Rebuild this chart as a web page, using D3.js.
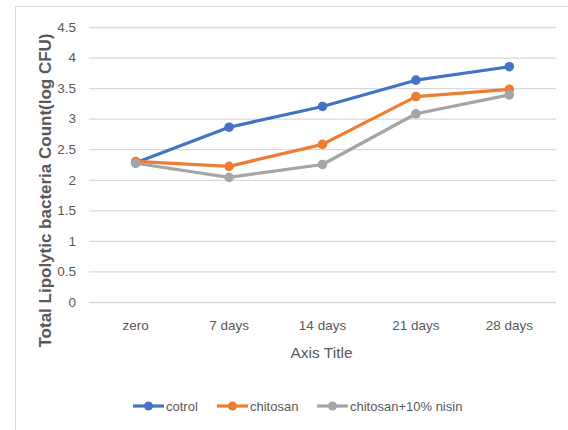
<!DOCTYPE html>
<html>
<head>
<meta charset="utf-8">
<script src="https://cdn.jsdelivr.net/npm/d3@7"></script>
<style>
  html, body { margin: 0; padding: 0; background: #fff; }
  svg { display: block; }
</style>
</head>
<body>
<svg id="chart" width="568" height="430"></svg>
<script>
// Storage time points
const categories = ["zero", "7 days", "14 days", "21 days", "28 days"];
// Total lipolytic bacteria count (log CFU) per treatment
const control = [2.28, 2.86, 3.20, 3.63, 3.85];
const chitosan = [2.30, 2.22, 2.58, 3.36, 3.48];
const chitosanNisin = [2.27, 2.04, 2.25, 3.08, 3.39];
const yTicks = [0, 0.5, 1, 1.5, 2, 2.5, 3, 3.5, 4, 4.5];

const series = [
  { name: "cotrol", values: control, color: "#4472C4" },
  { name: "chitosan", values: chitosan, color: "#ED7D31" },
  { name: "chitosan+10% nisin", values: chitosanNisin, color: "#A5A5A5" }
];

const font = "'Liberation Sans Narrow', 'Liberation Sans', sans-serif";
const svg = d3.select("#chart");

// chart frame
svg.append("rect")
  .attr("x", 15.5).attr("y", 6.5)
  .attr("width", 600).attr("height", 500)
  .attr("fill", "#fff").attr("stroke", "#D9D9D9").attr("stroke-width", 1);

const plot = { left: 89, right: 556, top: 27, bottom: 302 };

const x = d3.scaleBand().domain(categories).range([plot.left, plot.right]);
const y = d3.scaleLinear().domain([0, 4.5]).range([plot.bottom, plot.top]);

// horizontal gridlines
const yAxis = d3.axisLeft(y).tickValues(yTicks)
  .tickSize(-(plot.right - plot.left)).tickPadding(13)
  .tickFormat(d => String(d));
const gy = svg.append("g").attr("transform", `translate(${plot.left},0)`).call(yAxis);
gy.select(".domain").remove();
gy.selectAll(".tick line").attr("stroke", "#D9D9D9").attr("stroke-width", 1.3);
gy.selectAll(".tick text")
  .attr("fill", "#595959").style("font-family", font).style("font-size", "13.5px");

// category labels
const xAxis = d3.axisBottom(x).tickSize(0).tickPadding(18);
const gx = svg.append("g").attr("transform", `translate(0,${plot.bottom})`).call(xAxis);
gx.select(".domain").remove();
gx.selectAll(".tick text")
  .attr("fill", "#595959").style("font-family", font).style("font-size", "13.5px");

// axis titles
svg.append("text")
  .attr("x", (plot.left + plot.right) / 2 - 1).attr("y", 358)
  .attr("text-anchor", "middle")
  .attr("fill", "#595959").style("font-family", font).style("font-size", "15.5px")
  .text("Axis Title");

svg.append("text")
  .attr("transform", `translate(51,${190.5}) rotate(-90)`)
  .attr("text-anchor", "middle")
  .attr("fill", "#595959").style("font-family", "'Liberation Sans', sans-serif")
  .style("font-size", "16px").style("font-weight", "bold")
  .attr("textLength", 314).attr("lengthAdjust", "spacingAndGlyphs")
  .text("Total Lipolytic bacteria Count(log CFU)");

// series lines and markers
const cx = d => x(d) + x.bandwidth() / 2;
const line = d3.line().x((d, i) => cx(categories[i])).y(d => y(d));

series.forEach(s => {
  svg.append("path")
    .datum(s.values)
    .attr("d", line)
    .attr("fill", "none")
    .attr("stroke", s.color)
    .attr("stroke-width", 3.2)
    .attr("stroke-linejoin", "round")
    .attr("stroke-linecap", "round");
  svg.append("g").selectAll("circle")
    .data(s.values)
    .join("circle")
    .attr("cx", (d, i) => cx(categories[i]))
    .attr("cy", d => y(d))
    .attr("r", 4.8)
    .attr("fill", s.color);
});

// legend
const legendY = 406;
const legendX = [133, 217, 317];
const lg = svg.append("g");
series.forEach((s, i) => {
  const g = lg.append("g").attr("transform", `translate(${legendX[i]},${legendY})`);
  g.append("line").attr("x1", 0).attr("x2", 31).attr("y1", 0).attr("y2", 0)
    .attr("stroke", s.color).attr("stroke-width", 3.2);
  g.append("circle").attr("cx", 15.5).attr("cy", 0).attr("r", 4.5).attr("fill", s.color);
  g.append("text").attr("x", 33).attr("y", 5)
    .attr("fill", "#595959").style("font-family", font).style("font-size", "13px")
    .text(s.name);
});
</script>
</body>
</html>
